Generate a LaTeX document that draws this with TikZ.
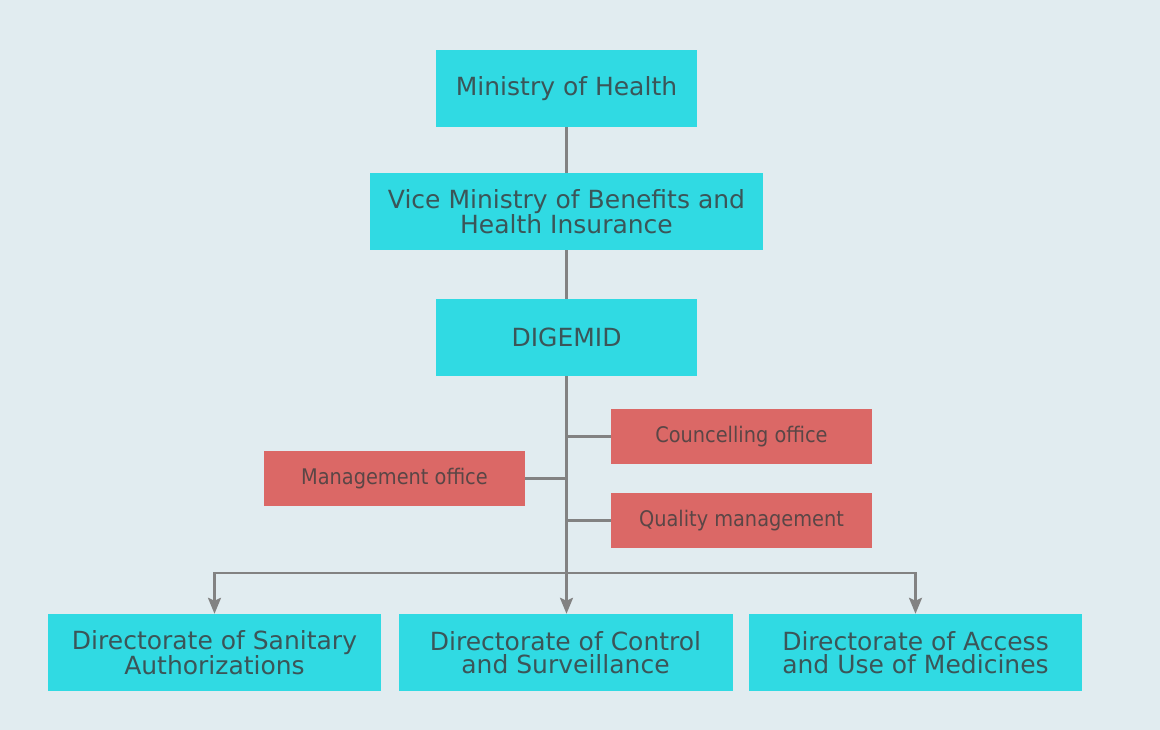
\documentclass[tikz,border=0pt]{standalone}
\usepackage{fontspec}
\setmainfont{DejaVu Sans}
\newfontfamily\condfont{DejaVu Sans Condensed}
\usetikzlibrary{arrows.meta}
\definecolor{bgc}{HTML}{E1ECF0}
\definecolor{cyanbox}{HTML}{30DAE3}
\definecolor{redbox}{HTML}{DB6866}
\definecolor{cyantext}{HTML}{3B5558}
\definecolor{redtext}{HTML}{5A4646}
\definecolor{linec}{HTML}{828282}
\tikzset{
  mainbox/.style={rectangle, fill=cyanbox, text=cyantext, align=center,
    font=\fontsize{25}{23.5}\selectfont, inner sep=0pt, minimum height=77pt},
  officebox/.style={rectangle, fill=redbox, text=redtext, align=center,
    font=\condfont\fontsize{21.5}{22}\selectfont, inner sep=0pt,
    minimum width=261pt, minimum height=55pt},
  conn/.style={draw=linec, line width=2.6pt},
  arrowconn/.style={conn, -{Stealth[width=13pt,length=16pt,inset=3pt]}},
}
\begin{document}
\begin{tikzpicture}[x=1pt,y=-1pt]
\fill[bgc] (0,0) rectangle (1160,730);
\useasboundingbox (0,0) rectangle (1160,730);
\node[mainbox, minimum width=261pt] (moh) at (566.5,88.5) {Ministry of Health};
\node[mainbox, minimum width=393pt] (vice) at (566.5,211.5) {Vice Ministry of Benefits and\\Health Insurance};
\node[mainbox, minimum width=261pt] (dig) at (566.5,337.5) {DIGEMID};
\node[officebox] (couns) at (741.5,436.5) {Councelling office};
\node[officebox] (mgmt) at (394.5,478.5) {Management office};
\node[officebox] (qual) at (741.5,520.5) {Quality management};
\node[mainbox, minimum width=333pt] (d1) at (214.5,652.5) {Directorate of Sanitary\\Authorizations};
\node[mainbox, minimum width=334pt] (d2) at (565.5,652.5) {Directorate of Control\\and Surveillance};
\node[mainbox, minimum width=333pt] (d3) at (915.5,652.5) {Directorate of Access\\and Use of Medicines};
\coordinate (bus) at (566.5,573);
\draw[conn] (moh.south) -- (vice.north);
\draw[conn] (vice.south) -- (dig.north);
\draw[arrowconn] (dig.south) -- (dig.south |- d2.north);
\draw[conn] (dig.south |- couns.west) -- (couns.west);
\draw[conn] (dig.south |- mgmt.east) -- (mgmt.east);
\draw[conn] (dig.south |- qual.west) -- (qual.west);
\draw[arrowconn] (bus) -| (d1.north);
\draw[arrowconn] (bus) -| (d3.north);
\end{tikzpicture}
\end{document}
